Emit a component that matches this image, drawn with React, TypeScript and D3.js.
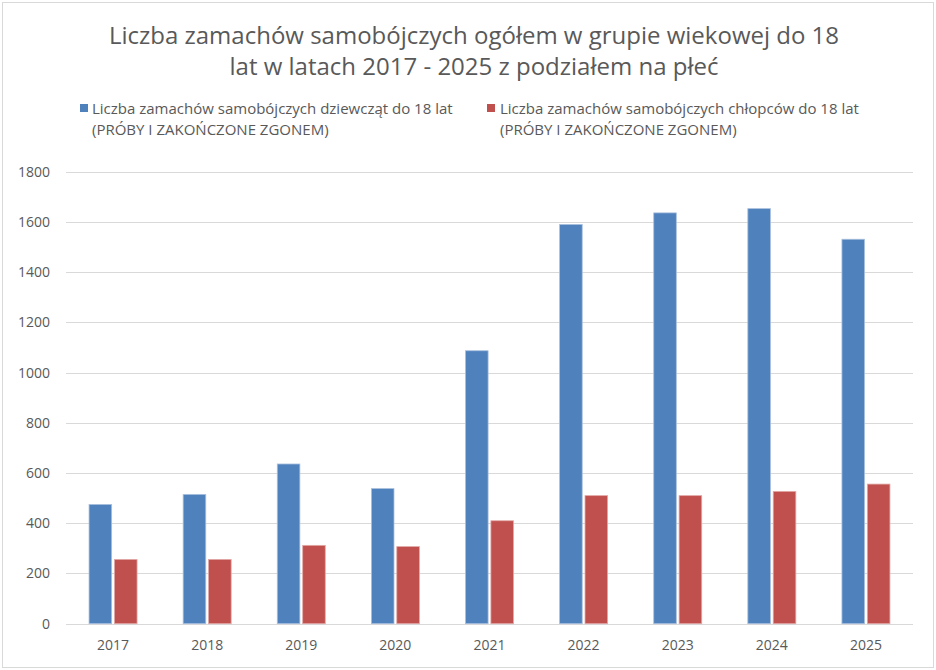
import React from "react";
import * as d3 from "d3";

const years = ["2017", "2018", "2019", "2020", "2021", "2022", "2023", "2024", "2025"];
const girls = [475, 515, 636, 538, 1087, 1590, 1636, 1653, 1531];
const boys = [256, 256, 312, 307, 410, 510, 510, 527, 556];
const yTicks = [0, 200, 400, 600, 800, 1000, 1200, 1400, 1600, 1800];
const titleLines = [
  "Liczba zamachów samobójczych ogółem w grupie wiekowej do 18",
  "lat w latach 2017 - 2025 z podziałem na płeć",
];
const legendGirls = ["Liczba zamachów samobójczych dziewcząt do 18 lat", "(PRÓBY I ZAKOŃCZONE ZGONEM)"];
const legendBoys = ["Liczba zamachów samobójczych chłopców do 18 lat", "(PRÓBY I ZAKOŃCZONE ZGONEM)"];

const W = 936;
const H = 670;
const FONT = "'Open Sans', sans-serif";
const TXT = "#595959";
const BLUE = "#4F81BD";
const RED = "#C0504D";

export default function App() {
  const x = d3.scaleBand<string>().domain(years).range([66, 913]).padding(0);
  const y = d3.scaleLinear().domain([0, 1800]).range([623.7, 171.7]);
  const sub = d3.scaleBand<string>().domain(["g", "b"]).range([-24, 24]).paddingInner(0.11);
  const series = [
    { key: "g", values: girls, fill: BLUE, stroke: "#a9c0de" },
    { key: "b", values: boys, fill: RED, stroke: "#e2a9a7" },
  ];
  return (
    <svg width={W} height={H} style={{ position: "absolute", left: 0, top: 0, background: "#fff" }}>
      <rect x={2.5} y={2.5} width={931} height={665} fill="#fff" stroke="#d9d9d9" strokeWidth={1} />
      <g fontFamily={FONT} fill={TXT}>
        {titleLines.map((t, i) => (
          <text key={i} x={474} y={44 + i * 31} textAnchor="middle" fontSize={24}>
            {t}
          </text>
        ))}
      </g>
      {/* legend */}
      <g fontFamily={FONT} fill={TXT} fontSize={15}>
        <rect x={80} y={104} width={8} height={8} fill={BLUE} />
        {legendGirls.map((t, i) => (
          <text key={i} x={92} y={114 + i * 21}>
            {t}
          </text>
        ))}
        <rect x={487} y={104} width={8} height={8} fill={RED} />
        {legendBoys.map((t, i) => (
          <text key={i} x={500} y={114 + i * 21}>
            {t}
          </text>
        ))}
      </g>
      {/* gridlines */}
      {yTicks.map((t) => (
        <line key={t} x1={66} x2={913} y1={Math.round(y(t)) + 0.5} y2={Math.round(y(t)) + 0.5} stroke="#d9d9d9" strokeWidth={1} />
      ))}
      {/* y labels */}
      <g fontFamily={FONT} fill={TXT} fontSize={14}>
        {yTicks.map((t) => (
          <text key={t} x={50} y={y(t) + 5} textAnchor="end">
            {t}
          </text>
        ))}
      </g>
      {/* bars */}
      {series.map((s) => (
        <g key={s.key}>
          {s.values.map((v, i) => {
            const cx = (x(years[i]) as number) + x.bandwidth() / 2;
            const bx = cx + (sub(s.key) as number);
            return (
              <rect
                key={i}
                x={bx}
                y={y(v)}
                width={sub.bandwidth()}
                height={y(0) - y(v)}
                fill={s.fill}
                stroke={s.stroke}
                strokeWidth={0.8}
              />
            );
          })}
        </g>
      ))}
      {/* x labels */}
      <g fontFamily={FONT} fill={TXT} fontSize={14}>
        {years.map((yr) => (
          <text key={yr} x={(x(yr) as number) + x.bandwidth() / 2} y={650} textAnchor="middle">
            {yr}
          </text>
        ))}
      </g>
    </svg>
  );
}
